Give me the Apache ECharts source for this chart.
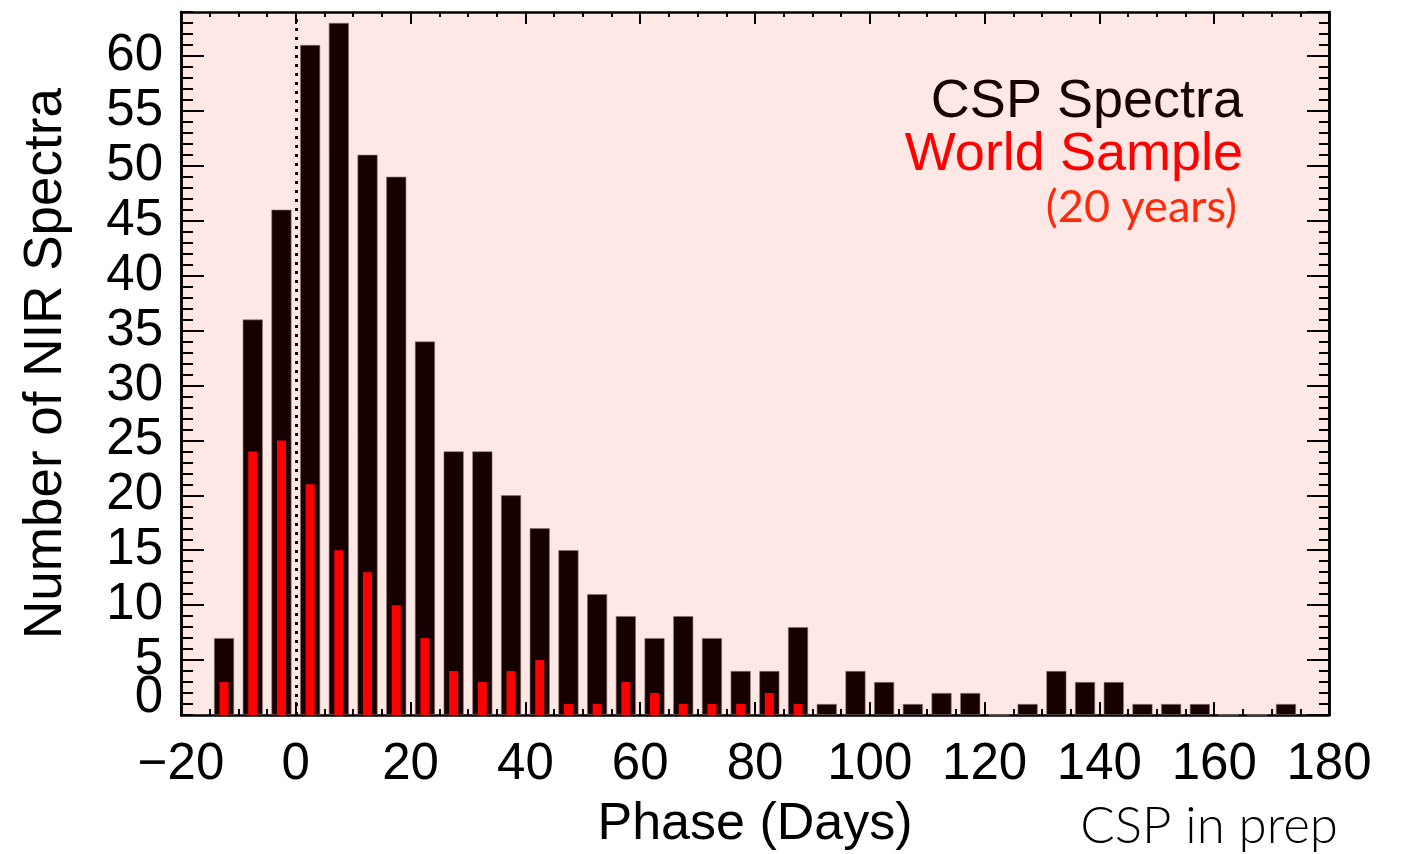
<!DOCTYPE html>
<html>
<head>
<meta charset="utf-8">
<title>NIR spectra vs phase</title>
<script src="https://cdn.jsdelivr.net/npm/echarts@6/dist/echarts.min.js"></script>
<style>
  html, body { margin: 0; padding: 0; background: #fff; }
  #chart { width: 1403px; height: 854px; }
</style>
</head>
<body>
<div id="chart"></div>
<script>
// bin centres (days), 5-day bins
const phaseBins = [-12.5, -7.5, -2.5, 2.5, 7.5, 12.5, 17.5, 22.5, 27.5, 32.5,
  37.5, 42.5, 47.5, 52.5, 57.5, 62.5, 67.5, 72.5, 77.5, 82.5,
  87.5, 92.5, 97.5, 102.5, 107.5, 112.5, 117.5, 122.5, 127.5, 132.5,
  137.5, 142.5, 147.5, 152.5, 157.5, 162.5, 167.5, 172.5];
// CSP spectra per bin
const cspCounts = [7, 36, 46, 61, 63, 51, 49, 34, 24, 24,
  20, 17, 15, 11, 9, 7, 9, 7, 4, 4,
  8, 1, 4, 3, 1, 2, 2, 0, 1, 4,
  3, 3, 1, 1, 1, 0, 0, 1];
// world sample (20 years) per bin
const worldCounts = [3, 24, 25, 21, 15, 13, 10, 7, 4, 3,
  4, 5, 1, 1, 3, 2, 1, 1, 1, 2,
  1, 0, 0, 0, 0, 0, 0, 0, 0, 0,
  0, 0, 0, 0, 0, 0, 0, 0];

const xRange = [-20, 180];   // major every 20, minor every 5
const yRange = [0, 64];      // major every 5, minor every 1

const FONT = '"Liberation Sans", Arial, Helvetica, sans-serif';
const INK = '#000';
const BAR_DARK = '#170000';

const chart = echarts.init(document.getElementById('chart'));

// axis helper, every side of the frame gets its own ticks
function frameX(pos, tickLen, minorLen, extra) {
  return Object.assign({
    type: 'value', position: pos, min: xRange[0], max: xRange[1], interval: 20,
    axisLine: { show: true, onZero: false, lineStyle: { color: INK, width: 2.5 } },
    axisTick: { show: true, inside: true, length: tickLen, lineStyle: { color: INK, width: 2 } },
    minorTick: { show: true, splitNumber: 4, length: minorLen, lineStyle: { color: INK, width: 2 } },
    splitLine: { show: false },
    minorSplitLine: { show: false },
    axisLabel: { show: false }
  }, extra || {});
}
function frameY(pos, step, tickLen, extra) {
  return Object.assign({
    type: 'value', position: pos, min: yRange[0], max: yRange[1], interval: step,
    axisLine: { show: true, onZero: false, lineStyle: { color: INK, width: 2.5 } },
    axisTick: { show: true, inside: true, length: tickLen, lineStyle: { color: INK, width: 2 } },
    splitLine: { show: false },
    axisLabel: { show: false }
  }, extra || {});
}

const option = {
  animation: false,
  backgroundColor: '#fff',
  grid: {
    left: 181, top: 12, width: 1148, height: 703,
    show: true, backgroundColor: '#fde8e6', borderWidth: 0,
    outerBoundsMode: 'none'
  },
  xAxis: [
    frameX('bottom', 13, 6, {
      axisLabel: {
        show: true, margin: 24, fontSize: 51, fontFamily: FONT, color: INK,
        showMinLabel: true, showMaxLabel: true,
        formatter: v => (v < 0 ? '\u2212' + Math.abs(v) : String(v))
      },
      name: 'Phase (Days)', nameLocation: 'middle', nameGap: 84,
      nameTextStyle: { fontSize: 52, fontFamily: FONT, color: INK }
    }),
    frameX('top', 12, 5)
  ],
  yAxis: [
    frameY('left', 5, 23, {
      // the 0 label is drawn separately (it sits above the axis in the original)
      axisLabel: {
        show: true, margin: 18, fontSize: 51, fontFamily: FONT, color: INK,
        showMinLabel: false, showMaxLabel: false
      },
      name: 'Number of NIR Spectra', nameLocation: 'middle', nameGap: 108, nameRotate: 90,
      nameMoveOverlap: false,
      nameTextStyle: { fontSize: 53, fontFamily: FONT, color: INK }
    }),
    frameY('left', 1, 12),
    frameY('right', 5, 22),
    frameY('right', 1, 10)
  ],
  graphic: [
    { type: 'text', x: 163, y: 698, style: { text: '0', fill: INK, font: '51px ' + FONT, textAlign: 'right', textVerticalAlign: 'middle' } },
    { type: 'text', x: 1243, y: 102, style: { text: 'CSP Spectra', fill: '#1a0000', font: '54px ' + FONT, textAlign: 'right', textVerticalAlign: 'middle' } },
    { type: 'text', x: 1243, y: 155, style: { text: 'World Sample', fill: '#ff0000', font: '54px ' + FONT, textAlign: 'right', textVerticalAlign: 'middle' } },
    { type: 'text', x: 1237, y: 207, style: { text: '(20 years)', fill: '#ff2a0a', font: '45px Lato, "Open Sans", sans-serif', textAlign: 'right', textVerticalAlign: 'middle' } },
    { type: 'text', x: 1338, y: 827, style: { text: 'CSP in prep', fill: '#000', font: '300 51px Lato, "Open Sans", sans-serif', textAlign: 'right', textVerticalAlign: 'middle' } }
  ],
  series: [
    {
      name: 'CSP Spectra', type: 'bar', xAxisIndex: 0, yAxisIndex: 0,
      data: phaseBins.map((p, i) => [p, cspCounts[i]]),
      barWidth: 20,
      itemStyle: { color: BAR_DARK, borderColor: '#8c7472', borderWidth: 0.6 },
      markLine: {
        silent: true, symbol: ['none', 'none'], label: { show: false },
        lineStyle: { type: [3, 6], color: BAR_DARK, width: 3 },
        data: [{ xAxis: 0 }]
      }
    },
    {
      // on the top axis so the narrow bars stay centred on the wide ones
      name: 'World Sample', type: 'bar', xAxisIndex: 1, yAxisIndex: 0,
      data: phaseBins.map((p, i) => [p, worldCounts[i]]),
      barWidth: 9,
      itemStyle: { color: '#ff0000' }
    }
  ]
};

chart.setOption(option);
</script>
</body>
</html>
